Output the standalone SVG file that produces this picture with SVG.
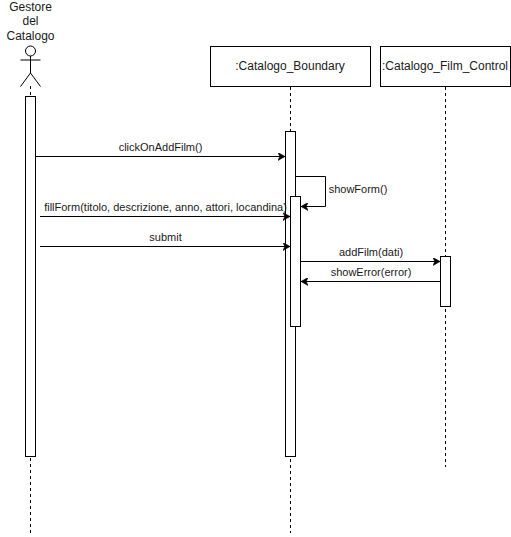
<svg xmlns="http://www.w3.org/2000/svg" width="511" height="537" viewBox="0 0 511 537">
<defs>
<marker id="arrow" markerUnits="userSpaceOnUse" markerWidth="8" markerHeight="8" refX="7" refY="4" orient="auto"><path d="M0 0L7 4L0 8L1.8 4Z" fill="#000" stroke="#000" stroke-width="0.6"/></marker>
</defs>
<style>
text{font-family:"Liberation Sans",Arial,sans-serif;fill:#1a1a1a;text-anchor:middle}
.n{font-size:12px}
.m{font-size:11px}
.b{fill:#fff;stroke:#000;stroke-width:1}
.l{fill:none;stroke:#000;stroke-width:1;stroke-dasharray:3 3}
.c{fill:none;stroke:#000;stroke-width:1;marker-end:url(#arrow)}
.a{fill:none;stroke:#000;stroke-width:1}
</style>
<rect width="511" height="537" fill="#fff"/>
<g id="actor">
<path class="l" d="M30.5 86V533"/>
<circle class="a" cx="30.5" cy="51" r="5"/>
<path class="a" d="M30.5 56V73M20.5 60H40.5M30.5 73L20.5 86.500M30.5 73L40.500 86.500"/>
<text class="n" x="30.500" y="11">Gestore</text>
<text class="n" x="30.500" y="25">del</text>
<text class="n" x="30.500" y="40">Catalogo</text>
<rect class="b" x="25.500" y="96.500" width="10" height="360"/>
</g>
<g id="boundary">
<path class="l" d="M290.500 87V533"/>
<rect class="b" x="210.500" y="46.500" width="160" height="40"/>
<text class="n" x="290" y="70">:Catalogo_Boundary</text>
<rect class="b" x="285.500" y="131.500" width="10" height="325"/>
<rect class="b" x="290.500" y="196.500" width="10" height="130"/>
</g>
<g id="control">
<path class="l" d="M445.500 87V467"/>
<rect class="b" x="380.500" y="46.500" width="130" height="40"/>
<text class="n" x="445" y="70">:Catalogo_Film_Control</text>
<rect class="b" x="440.500" y="256.500" width="10" height="50"/>
</g>
<g id="connectors">
<path class="c" d="M35 156.500H285"/>
<path class="c" d="M295.500 176.500H325.500V206.500H301"/>
<path class="c" d="M40 216.500H290"/>
<path class="c" d="M40 246.500H290"/>
<path class="c" d="M300.500 261.500H440"/>
<path class="c" d="M440.500 281.500H301"/>
<text class="m" x="160.500" y="151">clickOnAddFilm()</text>
<text class="m" x="358" y="193">showForm()</text>
<text class="m" x="165.500" y="211">fillForm(titolo, descrizione, anno, attori, locandina)</text>
<text class="m" x="165.500" y="241">submit</text>
<text class="m" x="371" y="256">addFilm(dati)</text>
<text class="m" x="371" y="276">showError(error)</text>
</g>
</svg>
